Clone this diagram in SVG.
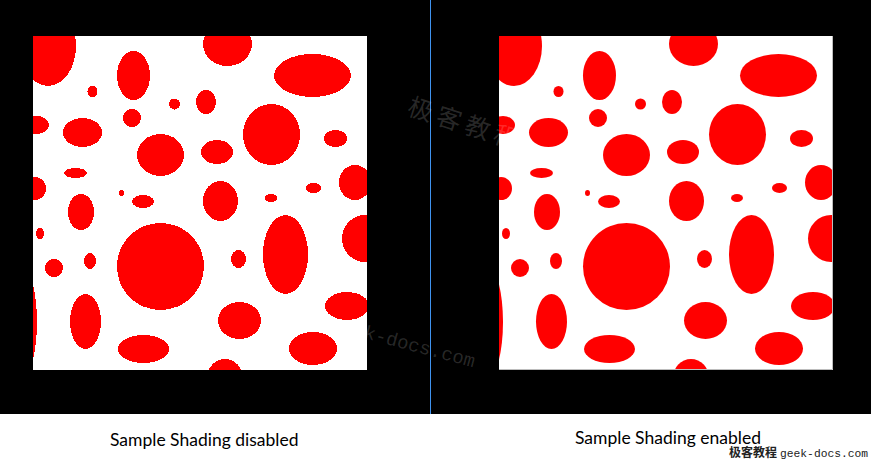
<svg xmlns="http://www.w3.org/2000/svg" xmlns:xlink="http://www.w3.org/1999/xlink" width="871" height="459" viewBox="0 0 871 459">
  <style>
    .dot { fill: #ff0000; }
    .cap { font-family: Lato, "Open Sans", sans-serif; font-size: 17.5px; fill: #000; }
    .wm { fill: #ffffff; fill-opacity: 0.16; }
    .wmcn { font-family: "Noto Sans CJK SC", sans-serif; }
    .wmen { font-family: "Liberation Mono", monospace; }
  </style>
  <defs>
    <clipPath id="clipSq">
      <rect x="33" y="36" width="334" height="334"/>
    </clipPath>
    <g id="dots">
      <rect x="33" y="36" width="334" height="334" fill="#ffffff"/>
      <ellipse class="dot" cx="48" cy="46" rx="28" ry="40"/>
      <ellipse class="dot" cx="133.5" cy="75.5" rx="16.5" ry="24.5"/>
      <ellipse class="dot" cx="227.5" cy="44" rx="24.5" ry="22"/>
      <ellipse class="dot" cx="312.5" cy="75.5" rx="38.5" ry="21.5"/>
      <ellipse class="dot" cx="92.5" cy="91.5" rx="5" ry="5.5"/>
      <ellipse class="dot" cx="174.5" cy="104" rx="5.5" ry="5.5"/>
      <ellipse class="dot" cx="206" cy="102" rx="10" ry="12"/>
      <ellipse class="dot" cx="37" cy="125" rx="12" ry="9"/>
      <ellipse class="dot" cx="132" cy="118" rx="9" ry="9"/>
      <ellipse class="dot" cx="82.5" cy="132.5" rx="19.5" ry="14.5"/>
      <ellipse class="dot" cx="271.5" cy="134.5" rx="28.5" ry="30.5"/>
      <ellipse class="dot" cx="335.5" cy="138.5" rx="11.5" ry="8.5"/>
      <ellipse class="dot" cx="160.5" cy="155" rx="23.5" ry="21"/>
      <ellipse class="dot" cx="217" cy="152" rx="16" ry="12"/>
      <ellipse class="dot" cx="75.5" cy="173" rx="11.5" ry="5"/>
      <ellipse class="dot" cx="35" cy="188.5" rx="11" ry="11.5"/>
      <ellipse class="dot" cx="121.5" cy="193" rx="2.5" ry="3"/>
      <ellipse class="dot" cx="143" cy="201.5" rx="11" ry="6.5"/>
      <ellipse class="dot" cx="220.5" cy="201" rx="17.5" ry="20"/>
      <ellipse class="dot" cx="271" cy="198" rx="6" ry="4"/>
      <ellipse class="dot" cx="313.5" cy="188" rx="7.5" ry="5"/>
      <ellipse class="dot" cx="355" cy="182.5" rx="16" ry="17.5"/>
      <ellipse class="dot" cx="81" cy="212" rx="13" ry="18"/>
      <ellipse class="dot" cx="40" cy="233.5" rx="4" ry="5.5"/>
      <ellipse class="dot" cx="160.5" cy="266.5" rx="43.5" ry="43.5"/>
      <ellipse class="dot" cx="285.5" cy="254.5" rx="22.5" ry="39.5"/>
      <ellipse class="dot" cx="365" cy="238.5" rx="23" ry="23.5"/>
      <ellipse class="dot" cx="54" cy="268" rx="9" ry="9"/>
      <ellipse class="dot" cx="90" cy="261" rx="6" ry="8"/>
      <ellipse class="dot" cx="238.5" cy="259" rx="7.5" ry="9"/>
      <ellipse class="dot" cx="22" cy="322" rx="15" ry="55"/>
      <ellipse class="dot" cx="85.5" cy="321.5" rx="15.5" ry="27.5"/>
      <ellipse class="dot" cx="143.5" cy="349" rx="25.5" ry="14"/>
      <ellipse class="dot" cx="239.5" cy="320.5" rx="21.5" ry="18.5"/>
      <ellipse class="dot" cx="347" cy="306" rx="22" ry="14"/>
      <ellipse class="dot" cx="313" cy="348.5" rx="24" ry="16.5"/>
      <ellipse class="dot" cx="225" cy="378" rx="18" ry="19"/>
    </g>
  </defs>

  <rect x="0" y="0" width="871" height="459" fill="#ffffff"/>
  <rect x="0" y="0" width="871" height="414" fill="#000000"/>

  <g id="panel-disabled" clip-path="url(#clipSq)" shape-rendering="crispEdges">
    <use xlink:href="#dots" href="#dots"/>
  </g>
  <g id="panel-enabled" transform="translate(466,0)">
    <g clip-path="url(#clipSq)">
      <use xlink:href="#dots" href="#dots"/>
    </g>
    <path d="M366.5 36 V369.5 H33" fill="none" stroke="#bdbdbd" stroke-width="1"/>
  </g>

  <line id="divider" x1="430.5" y1="0" x2="430.5" y2="414" stroke="#3f93f0" stroke-width="1"/>

  <g id="watermarks">
    <text class="wm wmcn" x="406" y="114" font-size="25" letter-spacing="5" transform="rotate(18 406 114)">极客教程</text>
    <text class="wm wmen" x="330" y="329" font-size="19" transform="rotate(15 330 329)">geek-docs.com</text>
  </g>

  <g id="captions">
    <text class="cap" x="110" y="445.5">Sample Shading disabled</text>
    <text class="cap" x="575" y="444">Sample Shading enabled</text>
  </g>

  <g id="footer-watermark">
    <text x="729" y="457" font-family="'Noto Sans CJK SC', sans-serif" font-weight="bold" font-size="12" fill="#222">极客教程</text>
    <text x="780" y="456.5" font-family="'Liberation Mono', monospace" font-size="11.3" fill="#222">geek-docs.com</text>
  </g>
</svg>
